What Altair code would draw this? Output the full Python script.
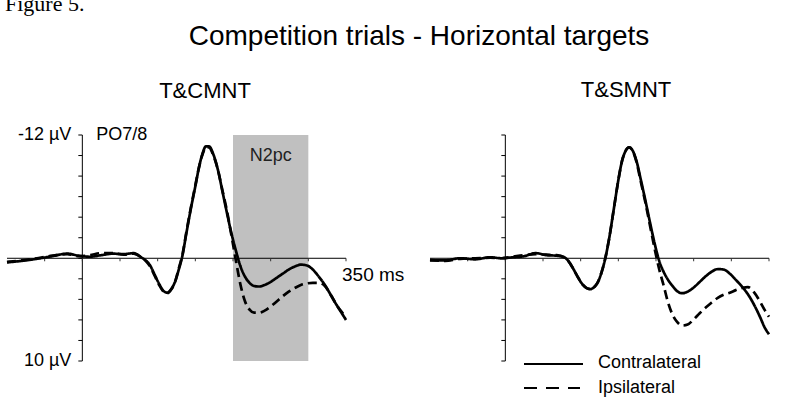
import altair as alt
import pandas as pd

# ---- data ----
TIME_MS = [-100, -80, -60, -40, -20, -5, 10, 25, 40, 55, 68, 78, 84, 90, 96, 102, 108, 113,
           118, 123, 128, 133, 138, 144, 150, 155, 160, 164, 168, 174, 180, 186, 192, 198,
           204, 210, 216, 222, 228, 235, 242, 250, 258, 266, 274, 282, 290, 298, 306, 314,
           322, 330, 338, 344, 350]

# T&CMNT (µV, negative up)
LEFT_CONTRA = [0.4, 0.25, 0.05, -0.2, -0.45, -0.25, -0.15, -0.3, -0.45, -0.4, -0.5, -0.1, 0.2,
               0.7, 1.6, 2.5, 3.2, 3.35, 3.0, 2.3, 1.1, -0.3, -2.4, -4.8, -7.0, -8.9, -10.3,
               -10.9, -10.9, -10.1, -8.6, -6.5, -4.4, -2.4, -0.7, 0.8, 1.8, 2.4, 2.7, 2.75,
               2.6, 2.3, 1.9, 1.5, 1.1, 0.8, 0.62, 0.7, 1.1, 1.8, 2.6, 3.6, 4.6, 5.3, 6.0]
LEFT_IPSI = [0.35, 0.2, 0.0, -0.25, -0.4, -0.2, -0.3, -0.5, -0.5, -0.35, -0.45, -0.1, 0.25,
             0.8, 1.7, 2.6, 3.25, 3.4, 3.05, 2.3, 1.0, -0.4, -2.5, -4.9, -7.1, -8.9, -10.2,
             -10.8, -10.8, -10.0, -8.6, -6.6, -4.6, -2.2, 0.3, 2.6, 4.2, 5.0, 5.3, 5.3,
             5.1, 4.7, 4.2, 3.7, 3.25, 2.9, 2.6, 2.45, 2.4, 2.4, 2.7, 3.6, 4.6, 5.2, 5.7]

# T&SMNT
RIGHT_CONTRA = [0.2, 0.2, 0.0, 0.1, -0.1, 0.0, -0.1, -0.2, -0.5, -0.3, -0.25, -0.1, 0.3,
                1.0, 1.8, 2.5, 2.9, 3.0, 2.8, 2.3, 1.3, -0.1, -2.0, -4.8, -7.6, -9.5, -10.5,
                -10.8, -10.6, -9.5, -7.6, -5.6, -3.5, -1.5, 0.2, 1.3, 2.1, 2.7, 3.2, 3.4,
                3.25, 2.85, 2.3, 1.75, 1.3, 1.05, 1.1, 1.5, 2.1, 2.75, 3.5, 4.5, 5.7, 6.7, 7.4]
RIGHT_IPSI = [0.15, 0.25, 0.05, 0.0, -0.05, 0.0, -0.15, -0.3, -0.4, -0.35, -0.3, -0.1, 0.3,
              1.0, 1.8, 2.5, 2.9, 3.0, 2.8, 2.3, 1.3, -0.1, -2.0, -4.8, -7.6, -9.5, -10.5,
              -10.8, -10.6, -9.4, -7.4, -5.4, -3.2, -1.0, 1.0, 2.6, 4.3, 5.5, 6.2, 6.55,
              6.45, 5.95, 5.35, 4.8, 4.3, 3.85, 3.55, 3.35, 3.1, 2.9, 2.8, 3.3, 4.2, 5.0, 5.7]

SIDES = ["Contralateral", "Ipsilateral"]
PANEL_TITLES = ["T&CMNT", "T&SMNT"]
MAIN_TITLE = "Competition trials - Horizontal targets"
FIG_LABEL = "Figure 5."
TIME_DOMAIN = [-100, 350]
UV_DOMAIN = [-12, 10]
TICK_UV = [-12, -10, -8, -6, -4, -2, 0, 2, 4, 6, 8, 10]
TICK_MS = [-50, 0, 50, 100, 150, 200, 250, 300, 350]
N2PC_WINDOW = [200, 300]

FONT = "Liberation Sans"

W, H = 762, 226
PANEL_W = 339


def curves(contra, ipsi):
    rows = []
    for t, c, i in zip(TIME_MS, contra, ipsi):
        rows.append({"t": t, "uv": c, "side": SIDES[0]})
        rows.append({"t": t, "uv": i, "side": SIDES[1]})
    return pd.DataFrame(rows)


yscale = alt.Scale(domain=UV_DOMAIN, reverse=True, nice=False, zero=False)


def panel(contra, ipsi, x0, with_labels):
    xs = alt.Scale(domain=TIME_DOMAIN, range=[x0, x0 + PANEL_W], nice=False, zero=False)
    X = lambda f: alt.X(f, type="quantitative", scale=xs, axis=None)
    Y = lambda f: alt.Y(f, type="quantitative", scale=yscale, axis=None)

    layers = []
    if with_labels:
        box = alt.Chart(pd.DataFrame({"t": [N2PC_WINDOW[0]], "t2": [N2PC_WINDOW[1]],
                                      "uv": [UV_DOMAIN[0]], "uv2": [UV_DOMAIN[1]]})).mark_rect(
            color="#c0c0c0").encode(x=X("t"), x2="t2:Q", y=Y("uv"), y2="uv2:Q")
        layers.append(box)

    zero_line = alt.Chart(pd.DataFrame({"t": [TIME_DOMAIN[0]], "t2": [TIME_DOMAIN[1]], "uv": [0]})).mark_rule(
        color="black", strokeWidth=1).encode(x=X("t"), x2="t2:Q", y=Y("uv"))
    y_line = alt.Chart(pd.DataFrame({"t": [0], "uv": [UV_DOMAIN[0]], "uv2": [UV_DOMAIN[1]]})).mark_rule(
        color="black", strokeWidth=1).encode(x=X("t"), y=Y("uv"), y2="uv2:Q")
    y_ticks = alt.Chart(pd.DataFrame({"t": [0] * len(TICK_UV), "uv": TICK_UV})).mark_rule(
        color="black", strokeWidth=1, x2Offset=-4).encode(x=X("t"), x2="t:Q", y=Y("uv"))
    x_ticks = alt.Chart(pd.DataFrame({"t": TICK_MS, "uv": [0] * len(TICK_MS)})).mark_rule(
        color="#333333", strokeWidth=1, y2Offset=3).encode(x=X("t"), y=Y("uv"), y2="uv:Q")
    layers += [zero_line, y_line, y_ticks, x_ticks]

    lines = alt.Chart(curves(contra, ipsi)).mark_line(
        color="black", strokeWidth=2.7, interpolate="monotone").encode(
        x=X("t"), y=Y("uv"),
        strokeDash=alt.StrokeDash("side:N", scale=alt.Scale(domain=SIDES, range=[[1, 0], [9, 5]]),
                                  legend=None),
        detail="side:N")
    layers.append(lines)

    if with_labels:
        lab = pd.DataFrame({"t": [0, 0, 0, N2PC_WINDOW[0] / 2 + N2PC_WINDOW[1] / 2, TIME_DOMAIN[1]],
                            "uv": [UV_DOMAIN[0], UV_DOMAIN[1], UV_DOMAIN[0], -10, 0],
                            "txt": ["-12 µV", "10 µV", "PO7/8", "N2pc", "350 ms"]})
        base = alt.Chart(lab)
        layers.append(base.transform_filter("datum.txt == '-12 µV' || datum.txt == '10 µV'").mark_text(
            align="right", baseline="middle", dx=-11, fontSize=18, font=FONT, color="black").encode(
            x=X("t"), y=Y("uv"), text="txt:N"))
        layers.append(base.transform_filter("datum.txt == 'PO7/8'").mark_text(
            align="left", baseline="middle", dx=14, fontSize=18, font=FONT, color="black").encode(
            x=X("t"), y=Y("uv"), text="txt:N"))
        layers.append(base.transform_filter("datum.txt == 'N2pc'").mark_text(
            align="center", baseline="middle", fontSize=18, font=FONT, color="#222222").encode(
            x=X("t"), y=Y("uv"), text="txt:N"))
        layers.append(base.transform_filter("datum.txt == '350 ms'").mark_text(
            align="left", baseline="middle", dx=-4, dy=17, fontSize=19, font=FONT, color="black").encode(
            x=X("t"), y=Y("uv"), text="txt:N"))
    return alt.layer(*layers)


left = panel(LEFT_CONTRA, LEFT_IPSI, 0, True)
right = panel(RIGHT_CONTRA, RIGHT_IPSI, W - PANEL_W, False)

one = alt.Chart(pd.DataFrame({"a": [0]}))
annot = alt.layer(
    one.mark_text(text=FIG_LABEL, align="left", baseline="alphabetic", font="Liberation Serif",
                  fontSize=22, color="black").encode(x=alt.value(-2), y=alt.value(-124)),
    one.mark_text(text=MAIN_TITLE, align="center", baseline="alphabetic", font=FONT,
                  fontSize=28, color="black").encode(x=alt.value(412), y=alt.value(-90)),
    one.mark_text(text=PANEL_TITLES[0], align="center", baseline="alphabetic", font=FONT,
                  fontSize=22, color="black").encode(x=alt.value(198), y=alt.value(-37)),
    one.mark_text(text=PANEL_TITLES[1], align="center", baseline="alphabetic", font=FONT,
                  fontSize=22, color="black").encode(x=alt.value(619), y=alt.value(-38)),
    one.mark_rule(color="black", strokeWidth=2).encode(
        x=alt.value(517), x2=alt.value(576), y=alt.value(229)),
    one.mark_rule(color="black", strokeWidth=2, strokeDash=[13, 9]).encode(
        x=alt.value(517), x2=alt.value(573), y=alt.value(253)),
    one.mark_text(text=SIDES[0], align="left", baseline="middle", font=FONT, fontSize=18,
                  color="black").encode(x=alt.value(591), y=alt.value(228)),
    one.mark_text(text=SIDES[1], align="left", baseline="middle", font=FONT, fontSize=18,
                  color="black").encode(x=alt.value(591), y=alt.value(253)),
)

chart = alt.layer(left, right, annot).resolve_scale(x="independent").properties(
    width=W, height=H,
    padding={"left": 7, "top": 135, "right": 16, "bottom": 43},
    autosize=alt.AutoSizeParams(type="none"),
    background="white",
).configure_view(stroke=None)

chart.save("out.html", embed_options={"renderer": "svg", "actions": False})
